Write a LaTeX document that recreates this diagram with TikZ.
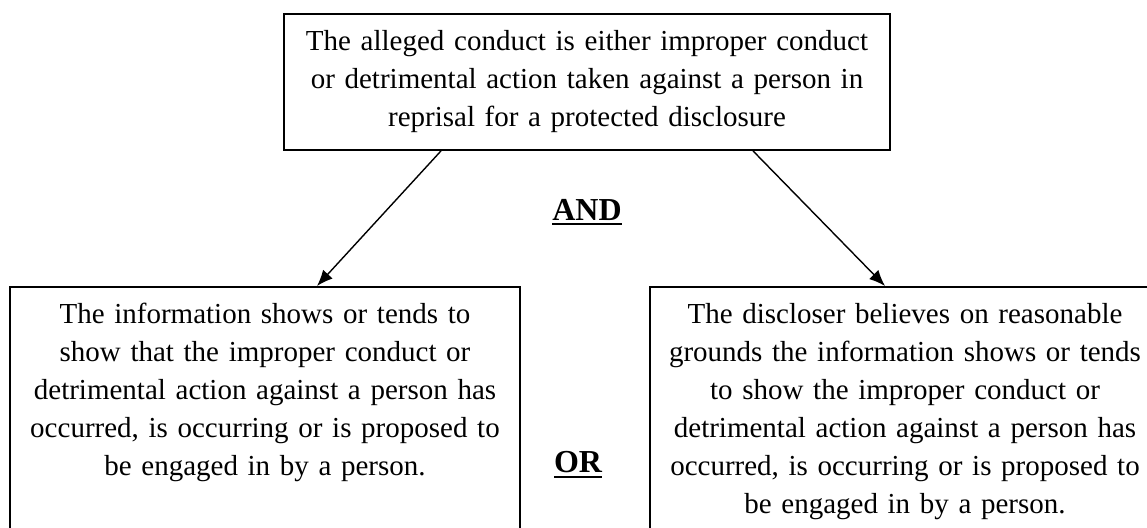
\documentclass[tikz,border=0pt]{standalone}
\usepackage{fontspec}
\setmainfont{Liberation Serif}
\usetikzlibrary{arrows.meta}
\newcommand{\thickul}[1]{\vtop{\hbox{#1}\kern1.5pt\hrule height 1pt}}

\begin{document}
\begin{tikzpicture}[x=1pt,y=1pt,
box/.style = {draw, line width=0.9pt, align=center, inner xsep=4.5pt,
  font=\fontsize{14.5pt}{19pt}\selectfont},
test/.style = {box, anchor=north, text width=246pt, inner ysep=8pt, text depth=150pt},
conj/.style = {font=\fontsize{16pt}{19pt}\selectfont\bfseries},
arr/.style = {line width=0.7pt, -{Latex[length=8pt,width=6.5pt]}}]
\useasboundingbox (0,0) rectangle (573.5,-264);
\clip (0,0) rectangle (573.5,-264);
\node[box, text width=290pt, inner xsep=6.5pt, minimum height=68pt] (conduct) at (293.5,-41)
    {The alleged conduct is either improper conduct\\
     or detrimental action taken against a person in\\
     reprisal for a protected disclosure};
\node[test] (info) at (132.5,-143)
    {The information shows or tends to\\
     show that the improper conduct or\\
     detrimental action against a person has\\
     occurred, is occurring or is proposed to\\
     be engaged in by a person.};
\node[test] (belief) at (452.5,-143)
    {The discloser believes on reasonable\\
     grounds the information shows or tends\\
     to show the improper conduct or\\
     detrimental action against a person has\\
     occurred, is occurring or is proposed to\\
     be engaged in by a person.};
\node[conj] (and) at (293.5,-106) {\thickul{AND}};
\node[conj] (or) at (289,-232.5) {\thickul{OR}};
\draw[arr] ([xshift=-73pt]conduct.south) -- ([xshift=26pt]info.north);
\draw[arr] ([xshift=83pt]conduct.south) -- ([xshift=-10pt]belief.north);
\end{tikzpicture}
\end{document}
